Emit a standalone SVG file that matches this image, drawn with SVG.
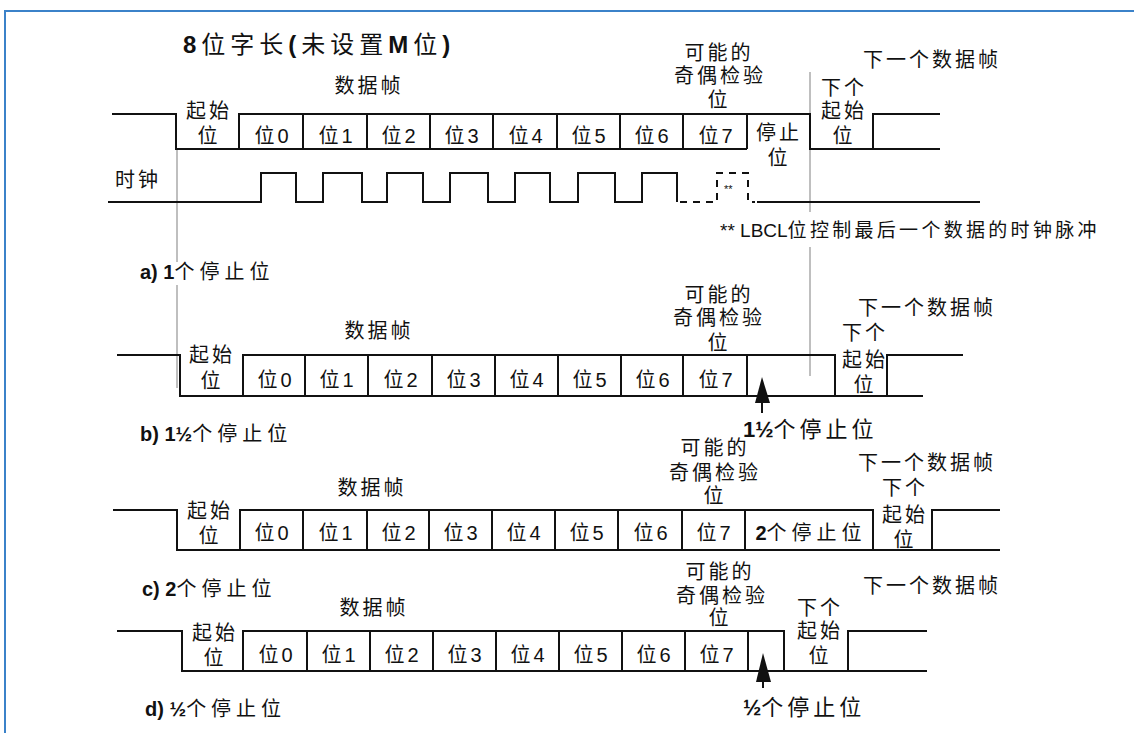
<svg xmlns="http://www.w3.org/2000/svg" width="1134" height="733" viewBox="0 0 1134 733">
<style>
text{font-family:"Liberation Sans","Noto Sans CJK SC",sans-serif;font-size:20px;fill:#111;letter-spacing:3px}
.m{text-anchor:middle}
.b{font-weight:bold}
.lat{letter-spacing:0}
.sig{fill:none;stroke:#111;stroke-width:2}
.dash{fill:none;stroke:#111;stroke-width:2;stroke-dasharray:7 6}
.gray{stroke:#aaa;stroke-width:1.5}
.sec{font-size:20px;letter-spacing:5px}
.arr{font-size:22px;letter-spacing:4px}
.ttl{font-size:24px;letter-spacing:5px}
.note{font-size:19px;letter-spacing:3.3px}
</style>
<rect width="1134" height="733" fill="#fff"/>
<path d="M5,733 V11 H1134" fill="none" stroke="#3b82c9" stroke-width="2"/>

<g id="title"><text class="ttl" x="183" y="53"><tspan class="b">8</tspan>位字长<tspan class="b">(</tspan>未设置<tspan class="b">M</tspan>位<tspan class="b">)</tspan></text></g>

<g id="guides">
<line class="gray" x1="177" y1="150" x2="177" y2="262"/>
<line class="gray" x1="177" y1="285" x2="177" y2="388"/>
<line class="gray" x1="810" y1="72" x2="810" y2="212"/>
<line class="gray" x1="810" y1="247" x2="810" y2="376"/>
</g>

<g id="frame-a">
<path class="sig" d="M112,114 H176 V149 H747 M239,149 V114 H810 V149 H940 M873,149 V114 H940 M303,114 V149 M367,114 V149 M430,114 V149 M493,114 V149 M557,114 V149 M620,114 V149 M683,114 V149 M747,114 V149"/>
<text class="m" x="369" y="93">数据帧</text>
<text class="m" x="209" y="118">起始</text><text class="m" x="209" y="143">位</text>
<text class="m" x="273" y="143">位0</text><text class="m" x="337" y="143">位1</text><text class="m" x="400" y="143">位2</text><text class="m" x="463" y="143">位3</text><text class="m" x="527" y="143">位4</text><text class="m" x="590" y="143">位5</text><text class="m" x="653" y="143">位6</text><text class="m" x="717" y="143">位7</text>
<text class="m" x="719" y="60">可能的</text><text class="m" x="720" y="83">奇偶检验</text><text class="m" x="719" y="107">位</text>
<text class="m" x="779" y="140">停止</text><text class="m" x="779" y="165">位</text>
<text class="m" x="844" y="95">下个</text><text class="m" x="844" y="118">起始</text><text class="m" x="844" y="143">位</text>
<text x="863" y="67">下一个数据帧</text>
</g>

<g id="clock">
<text x="115" y="187">时钟</text>
<path class="sig" d="M108,202 H261 V173 H296 V202 H323 V173 H362 V202 H387 V173 H423 V202 H450 V173 H488 V202 H515 V173 H550 V202 H578 V173 H615 V202 H642 V173 H677 V202"/>
<path class="dash" d="M680,202 H717 V173 H748 V202 H755"/>
<path class="sig" d="M757,202 H980"/>
<text class="lat" x="724" y="193" style="font-size:11px">**</text>
<text class="note" x="720" y="237"><tspan class="lat">** LBCL</tspan>位控制最后一个数据的时钟脉冲</text>
<text class="sec" x="140" y="279"><tspan class="b lat">a) 1</tspan>个停止位</text>
</g>

<g id="frame-b">
<path class="sig" d="M117,355 H180 V396 H923 M243,396 V355 H835 V396 M887,396 V355 H963 M305,355 V396 M368,355 V396 M432,355 V396 M495,355 V396 M558,355 V396 M621,355 V396 M683,355 V396 M747,355 V396"/>
<text class="m" x="379" y="338">数据帧</text>
<text class="m" x="212" y="362">起始</text><text class="m" x="212" y="388">位</text>
<text class="m" x="276" y="387">位0</text><text class="m" x="338" y="387">位1</text><text class="m" x="402" y="387">位2</text><text class="m" x="465" y="387">位3</text><text class="m" x="528" y="387">位4</text><text class="m" x="591" y="387">位5</text><text class="m" x="654" y="387">位6</text><text class="m" x="717" y="387">位7</text>
<text class="m" x="719" y="302">可能的</text><text class="m" x="719" y="325">奇偶检验</text><text class="m" x="719" y="350">位</text>
<text x="858" y="315">下一个数据帧</text>
<text class="m" x="865" y="340">下个</text><text class="m" x="865" y="367">起始</text><text class="m" x="865" y="392">位</text>
<polygon points="762,377 755,403 770,403" fill="#111"/>
<line x1="762" y1="402" x2="762" y2="413" stroke="#111" stroke-width="2"/>
<text class="arr" x="743" y="437"><tspan class="b lat">1½</tspan>个停止位</text>
<text class="sec" x="140" y="441"><tspan class="b lat">b) 1½</tspan>个停止位</text>
</g>

<g id="frame-c">
<path class="sig" d="M113,510 H177 V550 H1000 M240,550 V510 H873 V550 M932,550 V510 H1000 M303,510 V550 M367,510 V550 M429,510 V550 M492,510 V550 M555,510 V550 M618,510 V550 M682,510 V550 M745,510 V550"/>
<text class="m" x="372" y="495">数据帧</text>
<text class="m" x="210" y="518">起始</text><text class="m" x="210" y="543">位</text>
<text class="m" x="273" y="540">位0</text><text class="m" x="337" y="540">位1</text><text class="m" x="400" y="540">位2</text><text class="m" x="462" y="540">位3</text><text class="m" x="525" y="540">位4</text><text class="m" x="588" y="540">位5</text><text class="m" x="652" y="540">位6</text><text class="m" x="715" y="540">位7</text>
<text class="m" x="715" y="455">可能的</text><text class="m" x="715" y="480">奇偶检验</text><text class="m" x="715" y="503">位</text>
<text x="858" y="470">下一个数据帧</text>
<text class="m" x="905" y="495">下个</text><text class="m" x="905" y="522">起始</text><text class="m" x="905" y="547">位</text>
<text class="sec m" x="811" y="540"><tspan class="b lat">2</tspan>个停止位</text>
<text class="sec" x="142" y="596"><tspan class="b lat">c) 2</tspan>个停止位</text>
</g>

<g id="frame-d">
<path class="sig" d="M117,631 H182 V671 H927 M243,671 V631 H784 V671 M848,671 V631 H927 M307,631 V671 M370,631 V671 M433,631 V671 M496,631 V671 M559,631 V671 M622,631 V671 M685,631 V671 M748,631 V671"/>
<text class="m" x="374" y="615">数据帧</text>
<text class="m" x="215" y="640">起始</text><text class="m" x="215" y="665">位</text>
<text class="m" x="277" y="662">位0</text><text class="m" x="340" y="662">位1</text><text class="m" x="403" y="662">位2</text><text class="m" x="466" y="662">位3</text><text class="m" x="529" y="662">位4</text><text class="m" x="592" y="662">位5</text><text class="m" x="655" y="662">位6</text><text class="m" x="718" y="662">位7</text>
<text class="m" x="720" y="579">可能的</text><text class="m" x="722" y="603">奇偶检验</text><text class="m" x="720" y="625">位</text>
<text x="863" y="593">下一个数据帧</text>
<text class="m" x="820" y="615">下个</text><text class="m" x="820" y="638">起始</text><text class="m" x="820" y="663">位</text>
<polygon points="763,653 756,682 771,682" fill="#111"/>
<line x1="763" y1="681" x2="763" y2="688" stroke="#111" stroke-width="2"/>
<text class="arr" x="743" y="715"><tspan class="b lat">½</tspan>个停止位</text>
<text class="sec" x="145" y="716"><tspan class="b lat">d) ½</tspan>个停止位</text>
</g>
</svg>
